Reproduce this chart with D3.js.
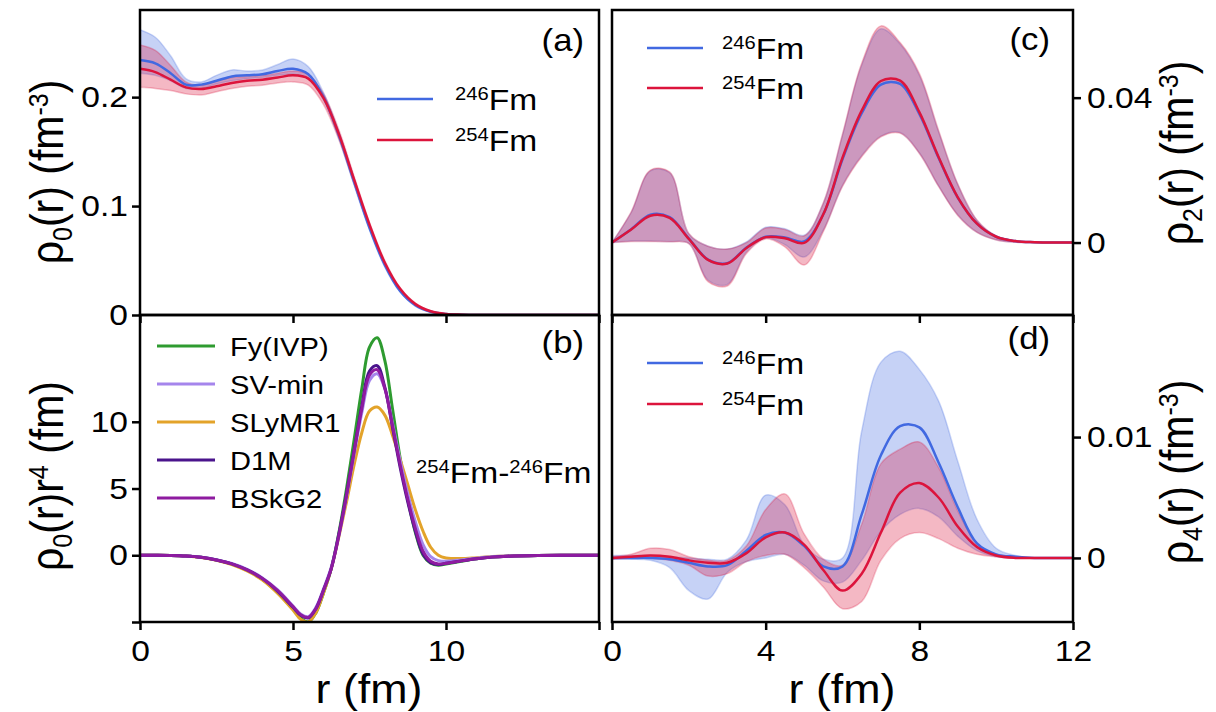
<!DOCTYPE html>
<html>
<head>
<meta charset="utf-8">
<script src="https://cdn.jsdelivr.net/npm/d3@7"></script>
<style>
  body { margin: 0; background: #fff; }
  svg text { font-family: "Liberation Sans", Arial, sans-serif; fill: #000; }
</style>
</head>
<body>
<div id="chart"></div>
<script>
// ---- panel (a): rho0(r) for 246Fm / 254Fm, mean and band ----
var rA = [0, 0.5, 1, 1.5, 2, 2.5, 3, 3.5, 4, 4.5, 5, 5.5, 6, 6.5, 7, 7.5, 8, 8.5, 9, 9.5, 10, 10.5, 11, 12, 13, 14, 15];
var fm246A   = [0.234, 0.231, 0.222, 0.2115, 0.2115, 0.215, 0.219, 0.220, 0.221, 0.224, 0.226, 0.221, 0.200, 0.165, 0.122, 0.080, 0.046, 0.022, 0.009, 0.003, 0.001, 0.0002, 0, 0, 0, 0, 0];
var fm246ALo = [0.222, 0.220, 0.215, 0.208, 0.208, 0.212, 0.215, 0.217, 0.218, 0.220, 0.221, 0.217, 0.197, 0.162, 0.119, 0.078, 0.044, 0.021, 0.008, 0.0025, 0.0008, 0.0001, 0, 0, 0, 0, 0];
var fm246AHi = [0.262, 0.255, 0.238, 0.217, 0.214, 0.220, 0.225, 0.224, 0.225, 0.230, 0.235, 0.228, 0.204, 0.168, 0.125, 0.082, 0.048, 0.023, 0.010, 0.0035, 0.0012, 0.0003, 0, 0, 0, 0, 0];
var fm254A   = [0.226, 0.223, 0.216, 0.209, 0.2075, 0.210, 0.213, 0.215, 0.216, 0.218, 0.220, 0.217, 0.199, 0.166, 0.124, 0.083, 0.048, 0.024, 0.010, 0.0035, 0.001, 0.0003, 0, 0, 0, 0, 0];
var fm254ALo = [0.209, 0.208, 0.206, 0.203, 0.202, 0.205, 0.208, 0.210, 0.211, 0.213, 0.214, 0.211, 0.193, 0.161, 0.120, 0.080, 0.046, 0.022, 0.009, 0.003, 0.0008, 0.0002, 0, 0, 0, 0, 0];
var fm254AHi = [0.248, 0.243, 0.229, 0.214, 0.211, 0.215, 0.218, 0.219, 0.220, 0.222, 0.224, 0.221, 0.203, 0.170, 0.127, 0.085, 0.050, 0.025, 0.011, 0.004, 0.0013, 0.0004, 0, 0, 0, 0, 0];

// ---- panel (b): rho0(r) r^4 difference 254Fm-246Fm, five interactions ----
var rB = [0, 0.5, 1, 1.5, 2, 2.5, 3, 3.5, 4, 4.5, 5, 5.25, 5.5, 5.75, 6, 6.25, 6.5, 6.75, 7, 7.25, 7.5, 7.75, 8, 8.25, 8.5, 8.75, 9, 9.25, 9.5, 9.75, 10, 10.5, 11, 11.5, 12, 13, 14, 15];
var fyIVP  = [0, 0, -0.01, -0.05, -0.15, -0.35, -0.66, -1.12, -1.8, -2.8, -4.0, -4.7, -5.0, -4.3, -2.8, -1.0, 1.7, 5.0, 8.7, 12.5, 15.6, 16.3, 14.6, 11.0, 7.3, 4.2, 1.7, 0.0, -0.6, -0.75, -0.65, -0.45, -0.27, -0.14, -0.07, -0.01, 0, 0];
var svMin  = [0, 0, -0.01, -0.05, -0.14, -0.33, -0.62, -1.05, -1.7, -2.6, -3.8, -4.4, -4.6, -3.9, -2.5, -0.9, 1.5, 4.4, 7.6, 10.7, 13.1, 13.6, 12.5, 9.9, 7.1, 4.6, 2.5, 0.8, -0.1, -0.4, -0.45, -0.35, -0.22, -0.12, -0.06, -0.01, 0, 0];
var slyMR1 = [0, 0, -0.01, -0.05, -0.16, -0.37, -0.7, -1.18, -1.85, -2.85, -4.1, -4.8, -5.0, -4.3, -2.8, -1.0, 1.4, 4.0, 6.8, 9.2, 10.8, 11.1, 10.5, 9.0, 7.2, 5.3, 3.4, 1.8, 0.6, 0.0, -0.2, -0.25, -0.18, -0.1, -0.05, -0.01, 0, 0];
var d1m    = [0, 0, -0.01, -0.05, -0.15, -0.35, -0.65, -1.1, -1.75, -2.7, -3.9, -4.5, -4.7, -4.0, -2.6, -1.0, 1.6, 4.6, 7.9, 11.2, 13.8, 14.2, 12.6, 9.6, 6.6, 4.0, 1.8, 0.1, -0.55, -0.7, -0.6, -0.42, -0.26, -0.14, -0.07, -0.01, 0, 0];
var bskG2  = [0, 0, -0.01, -0.05, -0.15, -0.35, -0.65, -1.1, -1.75, -2.65, -3.85, -4.45, -4.65, -4.0, -2.6, -1.0, 1.5, 4.5, 7.8, 11.0, 13.5, 13.9, 12.5, 9.7, 6.8, 4.2, 2.0, 0.3, -0.45, -0.65, -0.6, -0.42, -0.26, -0.14, -0.07, -0.01, 0, 0];
var modelNames = ["Fy(IVP)", "SV-min", "SLyMR1", "D1M", "BSkG2"];

// ---- panels (c) and (d): rho2(r), rho4(r) ----
var rCD = [0, 0.5, 1, 1.5, 2, 2.5, 3, 3.5, 4, 4.5, 5, 5.5, 6, 6.5, 7, 7.5, 8, 8.5, 9, 9.5, 10, 10.5, 11, 11.5, 12];
var fm246C   = [0, 0.0037, 0.0077, 0.0070, 0.0011, -0.0047, -0.0057, -0.0014, 0.0016, 0.0014, 0.0003, 0.0078, 0.0230, 0.0357, 0.0436, 0.0438, 0.0355, 0.0234, 0.0124, 0.0052, 0.0016, 0.0004, 0.0001, 0, 0];
var fm246CLo = [0, 0.0004, 0.0004, 0.0003, -0.0002, -0.0104, -0.0116, -0.0026, 0.0012, -0.0006, -0.0040, 0.0034, 0.0158, 0.0240, 0.0294, 0.0304, 0.0248, 0.0157, 0.0077, 0.0029, 0.0008, 0.0001, 0, 0, 0];
var fm246CHi = [0, 0.0083, 0.0198, 0.0193, 0.0024, -0.0010, -0.0018, 0.0002, 0.0042, 0.0038, 0.0020, 0.0108, 0.0296, 0.0490, 0.0590, 0.0548, 0.0462, 0.0306, 0.0160, 0.0061, 0.0018, 0.0004, 0.0001, 0, 0];
var fm254C   = [0, 0.0036, 0.0074, 0.0068, 0.0010, -0.0048, -0.0058, -0.0015, 0.0015, 0.0012, -0.0001, 0.0078, 0.0234, 0.0364, 0.0446, 0.0447, 0.0360, 0.0236, 0.0125, 0.0052, 0.0016, 0.0004, 0.0001, 0, 0];
var fm254CLo = [0, 0.0003, 0.0003, 0.0002, -0.0003, -0.0108, -0.0120, -0.0030, 0.0010, -0.0012, -0.0062, 0.0030, 0.0155, 0.0237, 0.0292, 0.0302, 0.0246, 0.0155, 0.0075, 0.0028, 0.0007, 0.0001, 0, 0, 0];
var fm254CHi = [0, 0.0085, 0.0200, 0.0195, 0.0025, -0.0010, -0.0018, 0.0000, 0.0040, 0.0036, 0.0018, 0.0110, 0.0300, 0.0495, 0.0598, 0.0552, 0.0467, 0.0310, 0.0162, 0.0062, 0.0018, 0.0004, 0.0001, 0, 0];

var fm246D   = [0, 0, 0, -0.0001, -0.0004, -0.0007, -0.0006, 0.0006, 0.0019, 0.0021, 0.0010, -0.0007, -0.0007, 0.0036, 0.0085, 0.0109, 0.0108, 0.0079, 0.0042, 0.0012, 0.0003, 0.0001, 0, 0, 0];
var fm246DLo = [-0.0001, -0.0001, -0.0002, -0.0008, -0.0027, -0.0034, -0.0012, -0.0003, 0.0000, 0.0003, -0.0006, -0.0019, -0.0020, -0.0002, 0.0022, 0.0036, 0.0041, 0.0034, 0.0018, 0.0006, 0.0001, 0, 0, 0, 0];
var fm246DHi = [0.0002, 0.0002, 0.0002, 0.0001, 0, -0.0001, -0.0001, 0.0015, 0.0052, 0.0044, 0.0011, -0.0001, 0.0000, 0.0105, 0.0162, 0.0171, 0.0156, 0.0130, 0.0080, 0.0032, 0.0008, 0.0002, 0, 0, 0];
var fm254D   = [0, 0.0001, 0.0002, 0.0001, -0.0002, -0.0004, -0.0004, 0.0004, 0.0017, 0.0021, 0.0011, -0.0010, -0.0027, -0.0013, 0.0021, 0.0054, 0.0062, 0.0050, 0.0026, 0.0009, 0.0002, 0, 0, 0, 0];
var fm254DLo = [-0.0001, 0, 0, -0.0002, -0.0006, -0.0015, -0.0013, -0.0003, 0.0002, 0.0003, -0.0008, -0.0024, -0.0042, -0.0036, -0.0002, 0.0016, 0.0021, 0.0016, 0.0008, 0.0003, 0.0001, 0, 0, 0, 0];
var fm254DHi = [0.0001, 0.0003, 0.0008, 0.0007, 0.0001, -0.0002, -0.0002, 0.0010, 0.0040, 0.0053, 0.0020, -0.0001, -0.0006, 0.0028, 0.0078, 0.0090, 0.0096, 0.0075, 0.0039, 0.0012, 0.0003, 0.0001, 0, 0, 0];

var isotopes = ["246", "254"];

// ticks
var ticksXL = [0, 5, 10, 15], tickLabelsXL = ["0", "5", "10", ""];
var ticksXR = [0, 4, 8, 12], tickLabelsXR = ["0", "4", "8", "12"];
var ticksA = [0, 0.1, 0.2], tickLabelsA = ["0", "0.1", "0.2"];
var ticksB = [-5, 0, 5, 10], tickLabelsB = ["", "0", "5", "10"];
var ticksC = [0, 0.04], tickLabelsC = ["0", "0.04"];
var ticksD = [0, 0.01], tickLabelsD = ["0", "0.01"];

// ---- layout ----
var width = 1216, height = 712;
var stretch = 1.12; // the original figure is a little wider than tall
var blue = "#4169e1", red = "#dc143c";
var modelColors = ["#2e9b30", "#a585ec", "#e3a32a", "#4a148c", "#8e1ba0"];

var svg = d3.select("#chart").append("svg")
    .attr("width", width)
    .attr("height", height);

var xL = d3.scaleLinear().domain([0, 15]).range([140, 599]);
var xR = d3.scaleLinear().domain([0, 12]).range([612, 1073]);
var yA = d3.scaleLinear().domain([0, 0.28]).range([315, 10]);
var yB = d3.scaleLinear().domain([-5, 18]).range([622, 315]);
var yC = d3.scaleLinear().domain([-0.02, 0.0642]).range([315, 10]);
var yD = d3.scaleLinear().domain([-0.0053, 0.0201]).range([622, 315]);

var curve = d3.curveCatmullRom.alpha(0.5);

// a clipped group for one panel
function panelGroup(id, x, y) {
    var x0 = x.range()[0], x1 = x.range()[1];
    var y0 = y.range()[1], y1 = y.range()[0];
    svg.append("clipPath").attr("id", id)
        .append("rect").attr("x", x0).attr("y", y0).attr("width", x1 - x0).attr("height", y1 - y0);
    return svg.append("g").attr("clip-path", "url(#" + id + ")");
}

function drawBand(g, x, y, r, lo, hi, color) {
    var area = d3.area()
        .x(function (i) { return x(r[i]); })
        .y0(function (i) { return y(lo[i]); })
        .y1(function (i) { return y(hi[i]); })
        .curve(curve);
    g.append("path")
        .attr("d", area(d3.range(r.length)))
        .attr("fill", color)
        .attr("fill-opacity", 0.3)
        .attr("stroke", color)
        .attr("stroke-opacity", 0.25)
        .attr("stroke-width", 1.5);
}

function drawLine(g, x, y, r, vals, color, w) {
    var line = d3.line()
        .x(function (i) { return x(r[i]); })
        .y(function (i) { return y(vals[i]); })
        .curve(curve);
    g.append("path")
        .attr("d", line(d3.range(r.length)))
        .attr("fill", "none")
        .attr("stroke", color)
        .attr("stroke-width", w);
}

function frame(x, y) {
    svg.append("rect")
        .attr("x", x.range()[0]).attr("y", y.range()[1])
        .attr("width", x.range()[1] - x.range()[0])
        .attr("height", y.range()[0] - y.range()[1])
        .attr("fill", "none")
        .attr("stroke", "#000")
        .attr("stroke-width", 2.5);
}

// axis helper: side = left/right/bottom
function axis(side, scale, pos, ticks, labels) {
    var ax = side === "left" ? d3.axisLeft(scale) : side === "right" ? d3.axisRight(scale) : d3.axisBottom(scale);
    ax.tickValues(ticks)
        .tickFormat(function (d, i) { return labels ? labels[i] : ""; })
        .tickSize(8)
        .tickPadding(side === "bottom" ? 10 : 4);
    var g = svg.append("g")
        .attr("transform", side === "bottom" ? "translate(0," + pos + ")" : "translate(" + pos + ",0)")
        .call(ax);
    // d3 sets its own font on the group, so override afterwards
    g.attr("font-family", "Liberation Sans, Arial, sans-serif").attr("font-size", 30);
    g.select(".domain").remove();
    g.selectAll(".tick line").attr("stroke", "#000").attr("stroke-width", 2.5);
    var t = g.selectAll(".tick text")
        .attr("fill", "#000")
        .style("font-size", "30px")
        .attr("transform", "scale(" + stretch + ",1)");
    if (side === "left") t.attr("x", -12 / stretch);
    if (side === "right") t.attr("x", 14 / stretch);
    return g;
}

// text with sub/superscript pieces, horizontally stretched like the source
function richText(x, y, segs, size, small, anchor, rotate) {
    var tr = "translate(" + x + "," + y + ") scale(" + stretch + ",1)" + (rotate ? " rotate(-90)" : "");
    var text = svg.append("text")
        .attr("transform", tr)
        .attr("text-anchor", anchor || "start")
        .style("font-size", size + "px");
    var shift = 0;
    segs.forEach(function (s) {
        var target = s.sub ? size * 0.2 : s.sup ? -size * 0.32 : 0;
        text.append("tspan")
            .attr("dy", target - shift)
            .style("font-size", (s.sub || s.sup ? small : size) + "px")
            .text(s.t);
        shift = target;
    });
    return text;
}

// ---- panel (a) ----
var gA = panelGroup("clipA", xL, yA);
drawBand(gA, xL, yA, rA, fm246ALo, fm246AHi, blue);
drawBand(gA, xL, yA, rA, fm254ALo, fm254AHi, red);
drawLine(gA, xL, yA, rA, fm246A, blue, 2.5);
drawLine(gA, xL, yA, rA, fm254A, red, 2.5);

// ---- panel (b) ----
var gB = panelGroup("clipB", xL, yB);
var modelSeries = [fyIVP, svMin, slyMR1, d1m, bskG2];
[0, 2, 1, 3, 4].forEach(function (k) {
    drawLine(gB, xL, yB, rB, modelSeries[k], modelColors[k], 3);
});

// ---- panel (c) ----
var gC = panelGroup("clipC", xR, yC);
drawBand(gC, xR, yC, rCD, fm246CLo, fm246CHi, blue);
drawBand(gC, xR, yC, rCD, fm254CLo, fm254CHi, red);
drawLine(gC, xR, yC, rCD, fm246C, blue, 2.5);
drawLine(gC, xR, yC, rCD, fm254C, red, 2.5);

// ---- panel (d) ----
var gD = panelGroup("clipD", xR, yD);
drawBand(gD, xR, yD, rCD, fm246DLo, fm246DHi, blue);
drawBand(gD, xR, yD, rCD, fm254DLo, fm254DHi, red);
drawLine(gD, xR, yD, rCD, fm246D, blue, 2.5);
drawLine(gD, xR, yD, rCD, fm254D, red, 2.5);

// axes
axis("left", yA, 140, ticksA, tickLabelsA);
axis("bottom", xL, 315, ticksXL, null);
axis("left", yB, 140, ticksB, tickLabelsB);
axis("bottom", xL, 622, ticksXL, tickLabelsXL);
axis("right", yC, 1073, ticksC, tickLabelsC);
axis("bottom", xR, 315, ticksXR, null);
axis("right", yD, 1073, ticksD, tickLabelsD);
axis("bottom", xR, 622, ticksXR, tickLabelsXR);

frame(xL, yA);
frame(xL, yB);
frame(xR, yC);
frame(xR, yD);

// axis titles
richText(369, 703, [{t: "r (fm)"}], 40, 24, "middle");
richText(842, 703, [{t: "r (fm)"}], 40, 24, "middle");
richText(63, 172, [{t: "ρ"}, {t: "0", sub: true}, {t: "(r) (fm"}, {t: "-3", sup: true}, {t: ")"}], 41, 25, "middle", true);
richText(63, 476, [{t: "ρ"}, {t: "0", sub: true}, {t: "(r)r"}, {t: "4", sup: true}, {t: " (fm)"}], 41, 25, "middle", true);
richText(1193, 153, [{t: "ρ"}, {t: "2", sub: true}, {t: "(r) (fm"}, {t: "-3", sup: true}, {t: ")"}], 41, 25, "middle", true);
richText(1193, 472, [{t: "ρ"}, {t: "4", sub: true}, {t: "(r) (fm"}, {t: "-3", sup: true}, {t: ")"}], 41, 25, "middle", true);

// panel tags
richText(584, 51, [{t: "(a)"}], 31, 18, "end");
richText(584, 353, [{t: "(b)"}], 31, 18, "end");
richText(1050, 50, [{t: "(c)"}], 31, 18, "end");
richText(1050, 349, [{t: "(d)"}], 31, 18, "end");

// isotope legends for (a), (c), (d)
function isoLegend(x0, x1, tx, y0, dy) {
    isotopes.forEach(function (m, i) {
        var yy = y0 + i * dy;
        svg.append("line")
            .attr("x1", x0).attr("x2", x1).attr("y1", yy).attr("y2", yy)
            .attr("stroke", i === 0 ? blue : red)
            .attr("stroke-width", 2.5);
        richText(tx, yy + 11, [{t: m, sup: true}, {t: "Fm"}], 30, 18, "start");
    });
}
isoLegend(377, 433, 455, 99, 41);
isoLegend(647, 703, 722, 48, 40);
isoLegend(647, 703, 722, 363, 41);

// model legend for (b)
modelNames.forEach(function (name, i) {
    var yy = 346 + i * 38;
    svg.append("line")
        .attr("x1", 157).attr("x2", 215).attr("y1", yy).attr("y2", yy)
        .attr("stroke", modelColors[i])
        .attr("stroke-width", 3);
    richText(230, yy + 9.5, [{t: name}], 26, 16, "start");
});
richText(416, 483, [{t: "254", sup: true}, {t: "Fm-"}, {t: "246", sup: true}, {t: "Fm"}], 30, 18, "start");
</script>
</body>
</html>
